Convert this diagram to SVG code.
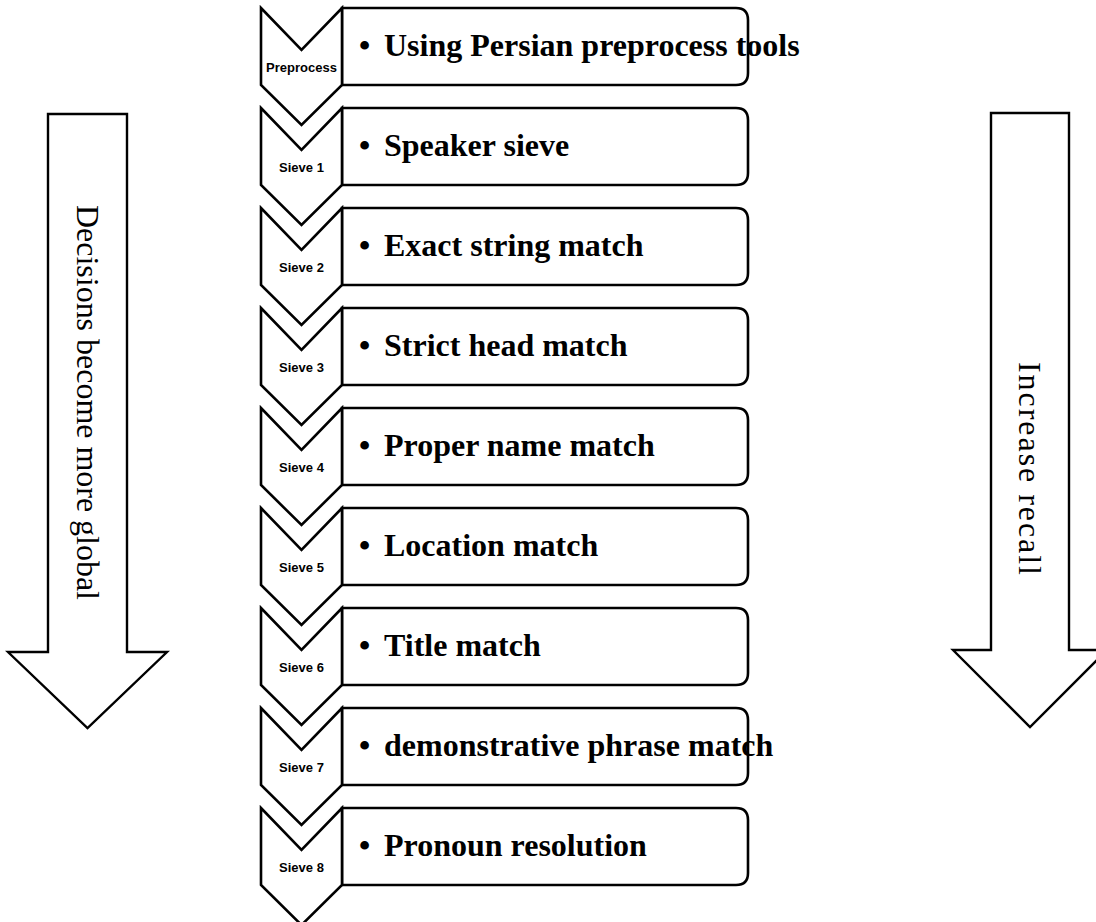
<svg xmlns="http://www.w3.org/2000/svg" width="1096" height="922" viewBox="0 0 1096 922">
<style>
.shape{fill:#fff;stroke:#000;stroke-width:2.6;stroke-linejoin:miter}
.arrow{fill:#fff;stroke:#000;stroke-width:2.4}
.lab{font-family:"Liberation Sans",Arial,sans-serif;font-weight:bold;font-size:13px;text-anchor:middle}
.item{font-family:"Liberation Serif","Times New Roman",serif;font-weight:bold;font-size:32px}
.side{font-family:"Liberation Serif","Times New Roman",serif;font-size:32px}
</style>
<defs>
<path id="chev" d="M261,0 L301.5,42 L342,0 L342,77 L301.5,117 L261,77 Z"/>
<path id="box" d="M342,0 H736 Q748,0 748,12 V65 Q748,77 736,77 H342 Z"/>
</defs>
<g id="left-arrow">
<path class="arrow" d="M48,114 H127 V652 H167 L87.5,728 L8,652 H48 Z"/>
<text class="side" transform="translate(77,205) rotate(90)" textLength="395" lengthAdjust="spacing">Decisions become more global</text>
</g>
<g id="right-arrow">
<path class="arrow" d="M991,113 H1069 V650 H1107 L1030,727 L953,650 H991 Z"/>
<text class="side" transform="translate(1019,362) rotate(90)" textLength="213" lengthAdjust="spacing">Increase recall</text>
</g>
<g id="connectors"></g>
<g id="step0" transform="translate(0,8)"><use href="#box" class="shape"/><use href="#chev" class="shape"/><text class="lab" x="301.5" y="64">Preprocess</text><text class="item" x="359" y="48">•</text><text class="item" x="384" y="48">Using Persian preprocess tools</text></g>
<g id="step1" transform="translate(0,108)"><use href="#box" class="shape"/><use href="#chev" class="shape"/><text class="lab" x="301.5" y="64">Sieve 1</text><text class="item" x="359" y="48">•</text><text class="item" x="384" y="48">Speaker sieve</text></g>
<g id="step2" transform="translate(0,208)"><use href="#box" class="shape"/><use href="#chev" class="shape"/><text class="lab" x="301.5" y="64">Sieve 2</text><text class="item" x="359" y="48">•</text><text class="item" x="384" y="48">Exact string match</text></g>
<g id="step3" transform="translate(0,308)"><use href="#box" class="shape"/><use href="#chev" class="shape"/><text class="lab" x="301.5" y="64">Sieve 3</text><text class="item" x="359" y="48">•</text><text class="item" x="384" y="48">Strict head match</text></g>
<g id="step4" transform="translate(0,408)"><use href="#box" class="shape"/><use href="#chev" class="shape"/><text class="lab" x="301.5" y="64">Sieve 4</text><text class="item" x="359" y="48">•</text><text class="item" x="384" y="48">Proper name match</text></g>
<g id="step5" transform="translate(0,508)"><use href="#box" class="shape"/><use href="#chev" class="shape"/><text class="lab" x="301.5" y="64">Sieve 5</text><text class="item" x="359" y="48">•</text><text class="item" x="384" y="48">Location match</text></g>
<g id="step6" transform="translate(0,608)"><use href="#box" class="shape"/><use href="#chev" class="shape"/><text class="lab" x="301.5" y="64">Sieve 6</text><text class="item" x="359" y="48">•</text><text class="item" x="384" y="48">Title match</text></g>
<g id="step7" transform="translate(0,708)"><use href="#box" class="shape"/><use href="#chev" class="shape"/><text class="lab" x="301.5" y="64">Sieve 7</text><text class="item" x="359" y="48">•</text><text class="item" x="384" y="48">demonstrative phrase match</text></g>
<g id="step8" transform="translate(0,808)"><use href="#box" class="shape"/><use href="#chev" class="shape"/><text class="lab" x="301.5" y="64">Sieve 8</text><text class="item" x="359" y="48">•</text><text class="item" x="384" y="48">Pronoun resolution</text></g>
</svg>
